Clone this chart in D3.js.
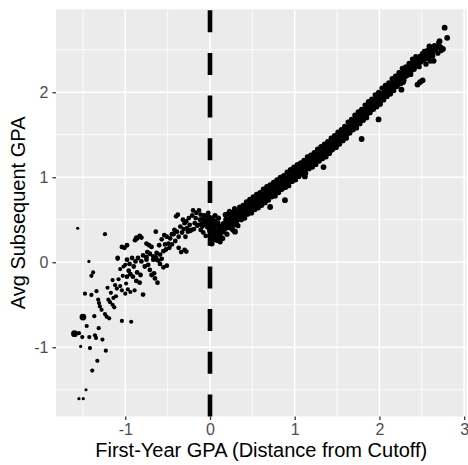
<!DOCTYPE html>
<html>
<head>
<meta charset="utf-8">
<script src="https://cdn.jsdelivr.net/npm/d3@7"></script>
<style>
  body { margin: 0; background: #fff; }
  svg { display: block; font-family: "Liberation Sans", Arial, sans-serif; }
</style>
</head>
<body>
<div id="chart"></div>
<script>
// Width and height of the SVG
const width = 468;
const height = 465;

// axis ticks
const xMajor = [-1, 0, 1, 2, 3];
const xMinor = [-1.5, -0.5, 0.5, 1.5, 2.5];
const yMajor = [-1, 0, 1, 2];
const yMinor = [-1.5, -0.5, 0.5, 1.5, 2.5];
const cutoff = 0;

// bins with very few students (far left)
const tinyBins = [
    [-1.562, 0.40], [-1.547, -1.605], [-1.496, -1.605], [-1.464, -1.50], [-1.527, -0.99], [-1.43, 0.01]
];

// two heavy bins
const heavyBins = [[-1.50, -0.645], [-1.60, -0.84]];

// sparse bins below -1.1
const farLeft = [
    [-1.24, 0.33], [-1.38, -0.12], [-1.40, -0.16], [-1.476, -0.37], [-1.40, -0.385], [-1.34, -0.34],
    [-1.366, -0.635], [-1.456, -0.75], [-1.547, -0.835], [-1.508, -0.88], [-1.425, -0.88], [-1.358, -0.86],
    [-1.346, -0.89], [-1.314, -0.776], [-1.27, -0.91], [-1.417, -1.01], [-1.23, -1.04], [-1.33, -1.16],
    [-1.39, -1.275],
    [-1.32, -0.44], [-1.31, -0.48], [-1.30, -0.52], [-1.28, -0.56], [-1.24, -0.61], [-1.22, -0.64],
    [-1.19, -0.66], [-1.20, -0.44], [-1.18, -0.47], [-1.15, -0.50], [-1.13, -0.53], [-1.21, -0.30],
    [-1.15, -0.21], [-1.09, 0.04], [-1.06, -0.08], [-1.02, -0.05], [-1.00, -0.03],
    [-1.10, -0.31], [-1.06, -0.28], [-1.04, -0.33], [-1.00, -0.37], [-0.97, -0.32], [-0.94, -0.35],
    [-0.89, -0.33], [-1.14, -0.42], [-1.11, -0.40], [-1.04, -0.69], [-0.93, -0.70],
    [-1.17, -0.36], [-1.12, -0.27], [-1.08, -0.20], [-1.03, -0.16], [-0.99, -0.25]
];

// bins between -1.1 and the cutoff
const nearLeft = [
    [-1.04, 0.18], [-1.01, 0.17], [-0.98, 0.20], [-0.885, 0.26], [-0.86, 0.28], [-0.83, 0.31],
    [-0.81, 0.29], [-0.75, 0.22], [-0.72, 0.20], [-0.64, 0.36],
    [-1.09, 0.05], [-0.98, 0.03], [-0.95, -0.02], [-0.92, 0.05], [-0.88, 0.01], [-0.85, 0.05], [-0.81, 0.01],
    [-0.79, 0.08], [-0.75, 0.06], [-0.71, 0.10], [-0.67, 0.07], [-0.63, 0.11], [-0.59, 0.09],
    [-0.55, 0.13], [-0.52, 0.15], [-0.48, 0.17],
    [-0.71, -0.09], [-0.69, -0.15], [-0.65, -0.19], [-0.62, -0.24],
    [-0.98, -0.17], [-0.94, -0.14], [-0.91, -0.17], [-0.87, -0.22], [-0.83, -0.24], [-0.79, -0.38],
    [-0.67, 0.03], [-0.64, 0.06], [-0.61, 0.02], [-0.57, 0.04],
    [-0.51, 0.30], [-0.47, 0.28], [-0.43, 0.33], [-0.39, 0.36], [-0.37, 0.30], [-0.33, 0.35],
    [-0.31, 0.39], [-0.27, 0.40], [-0.23, 0.37], [-0.19, 0.39], [-0.15, 0.43],
    [-0.53, 0.21], [-0.49, 0.22], [-0.45, 0.21], [-0.41, 0.25], [-0.37, 0.17],
    [-0.30, 0.145], [-0.34, 0.12], [-0.28, 0.125], [-0.40, 0.54], [-0.38, 0.56],
    [-0.20, 0.61], [-0.16, 0.58], [-0.13, 0.61], [-0.11, 0.56], [-0.09, 0.51], [-0.07, 0.55],
    [-0.05, 0.50], [-0.03, 0.46], [-0.02, 0.50], [-0.01, 0.40],
    [-0.32, 0.50], [-0.28, 0.48], [-0.24, 0.44], [-0.22, 0.38], [-0.18, 0.46], [-0.14, 0.44],
    [-0.11, 0.38], [-0.08, 0.35], [-0.05, 0.31],
    [-0.12, 0.50], [-0.10, 0.45], [-0.06, 0.44], [-0.04, 0.55], [-0.02, 0.58], [-0.01, 0.53],
    [-0.03, 0.41], [-0.07, 0.47], [-0.09, 0.42],
    [-0.63, 0.03], [-0.59, -0.02], [-0.55, -0.06], [-0.51, -0.04], [-0.66, -0.13],
    [-0.75, 0.03], [-0.73, -0.03], [-0.45, 0.33], [-0.42, 0.38], [-0.29, 0.30], [-0.26, 0.36],
    [-0.87, 0.29],
    [-0.96, -0.10], [-0.90, -0.05], [-0.86, -0.12], [-0.82, -0.15], [-0.77, -0.05], [-0.74, 0.12],
    [-0.69, 0.18], [-0.60, 0.20], [-0.57, 0.27], [-0.54, 0.32], [-0.35, 0.42], [-0.30, 0.46],
    [-0.25, 0.52], [-0.21, 0.55], [-0.17, 0.52]
];

// bins right of the cutoff, core of the band
const right = [
    [0.00, 0.37], [0.01, 0.31], [0.02, 0.47], [0.04, 0.43],
    [0.01, 0.25], [0.02, 0.22], [0.03, 0.29], [0.05, 0.27], [0.06, 0.34], [0.04, 0.38], [0.07, 0.30],
    [0.08, 0.37], [0.09, 0.26], [0.10, 0.33], [0.11, 0.40], [0.12, 0.35], [0.13, 0.29], [0.02, 0.42],
    [0.05, 0.48], [0.03, 0.52], [0.07, 0.44], [0.09, 0.46], [0.14, 0.42], [0.15, 0.36], [0.16, 0.45],
    [0.17, 0.39], [0.18, 0.43], [0.19, 0.50], [0.20, 0.41], [0.21, 0.47], [0.22, 0.57], [0.23, 0.51],
    [0.24, 0.45], [0.25, 0.53], [0.26, 0.49], [0.27, 0.58], [0.28, 0.44], [0.295, 0.36], [0.30, 0.52],
    [0.31, 0.56], [0.32, 0.50], [0.33, 0.60], [0.34, 0.54], [0.35, 0.57], [0.36, 0.51], [0.37, 0.62],
    [0.38, 0.58], [0.39, 0.55], [0.40, 0.63], [0.41, 0.59], [0.42, 0.66], [0.43, 0.61], [0.44, 0.57],
    [0.45, 0.65], [0.46, 0.69], [0.47, 0.62], [0.48, 0.67], [0.49, 0.72], [0.50, 0.64], [0.51, 0.68],
    [0.52, 0.74], [0.53, 0.70], [0.54, 0.66], [0.55, 0.72], [0.56, 0.77], [0.57, 0.71], [0.58, 0.75],
    [0.59, 0.69], [0.60, 0.79], [0.61, 0.74], [0.62, 0.77], [0.63, 0.71], [0.64, 0.80], [0.65, 0.75],
    [0.66, 0.78], [0.67, 0.83], [0.68, 0.76], [0.69, 0.81], [0.70, 0.85], [0.71, 0.65], [0.71, 0.79],
    [0.72, 0.83], [0.73, 0.87], [0.74, 0.80], [0.75, 0.85], [0.76, 0.89], [0.77, 0.82], [0.78, 0.87],
    [0.79, 0.91], [0.80, 0.84], [0.81, 0.89], [0.82, 0.93], [0.83, 0.86], [0.84, 0.91], [0.85, 0.95],
    [0.86, 0.88], [0.87, 0.93], [0.885, 0.73], [0.88, 0.97], [0.89, 0.91], [0.90, 0.95], [0.91, 0.99],
    [0.92, 0.93], [0.93, 0.98], [0.94, 1.02], [0.95, 0.96], [0.96, 1.01], [0.97, 1.05], [0.98, 0.99],
    [0.99, 1.04], [1.00, 1.08], [1.01, 1.02], [1.02, 1.06], [1.03, 1.10], [1.04, 1.04], [1.05, 1.09],
    [1.06, 1.12], [1.07, 1.06], [1.08, 1.11], [1.09, 1.14], [1.10, 1.08], [1.11, 1.13], [1.12, 1.01],
    [1.12, 1.16], [1.13, 1.10], [1.14, 1.15], [1.15, 1.18], [1.16, 1.12], [1.17, 1.17], [1.18, 1.20],
    [1.19, 1.14], [1.20, 1.19], [1.21, 1.22], [1.22, 1.16], [1.23, 1.21], [1.24, 1.25], [1.25, 1.18],
    [1.26, 1.23], [1.27, 1.27], [1.28, 1.21], [1.29, 1.26], [1.30, 1.29], [1.31, 1.23], [1.32, 1.28],
    [1.33, 1.31], [1.34, 1.12], [1.34, 1.25], [1.35, 1.30], [1.36, 1.34], [1.37, 1.28], [1.38, 1.33],
    [1.39, 1.36], [1.40, 1.30], [1.41, 1.35], [1.42, 1.38], [1.43, 1.32], [1.44, 1.37], [1.45, 1.41],
    [1.46, 1.35], [1.47, 1.40], [1.48, 1.44], [1.49, 1.38], [1.50, 1.43], [1.51, 1.47], [1.52, 1.41],
    [1.53, 1.46], [1.54, 1.50], [1.55, 1.44], [1.56, 1.49], [1.57, 1.53], [1.58, 1.47], [1.59, 1.52],
    [1.60, 1.56], [1.61, 1.50], [1.62, 1.55], [1.63, 1.59], [1.64, 1.53], [1.65, 1.58], [1.66, 1.62],
    [1.67, 1.56], [1.68, 1.61], [1.69, 1.65], [1.70, 1.59], [1.71, 1.64], [1.72, 1.68], [1.73, 1.62],
    [1.74, 1.67], [1.75, 1.71], [1.76, 1.65], [1.77, 1.70], [1.78, 1.74], [1.79, 1.45], [1.79, 1.68],
    [1.80, 1.73], [1.81, 1.77], [1.82, 1.71], [1.83, 1.76], [1.84, 1.80], [1.85, 1.74], [1.86, 1.79],
    [1.87, 1.83], [1.88, 1.77], [1.89, 1.82], [1.90, 1.86], [1.91, 1.80], [1.92, 1.85], [1.93, 1.89],
    [1.94, 1.83], [1.95, 1.88], [1.96, 1.92], [1.975, 1.96], [1.97, 1.86], [1.98, 1.91], [1.99, 1.68],
    [2.00, 1.95], [2.01, 1.89], [2.02, 1.94], [2.03, 1.98], [2.04, 1.92], [2.05, 1.97], [2.06, 2.01],
    [2.07, 1.95], [2.08, 2.00], [2.09, 2.04], [2.10, 1.98], [2.11, 2.03], [2.12, 2.07], [2.13, 2.01],
    [2.14, 2.06], [2.15, 2.10], [2.16, 2.04], [2.17, 2.09], [2.18, 2.13], [2.19, 2.07], [2.20, 2.12],
    [2.21, 2.16], [2.22, 2.10], [2.23, 2.15], [2.24, 2.19], [2.25, 2.13], [2.26, 2.03], [2.26, 2.18],
    [2.27, 2.22], [2.28, 2.12], [2.28, 2.16], [2.29, 2.21], [2.30, 2.25], [2.31, 2.19], [2.32, 2.24],
    [2.33, 2.28], [2.34, 2.22], [2.35, 2.27], [2.36, 2.31], [2.37, 2.25], [2.38, 2.30], [2.39, 2.34],
    [2.40, 2.28], [2.41, 2.33], [2.42, 2.37], [2.43, 2.31], [2.44, 2.36], [2.45, 2.09], [2.45, 2.40],
    [2.46, 2.34], [2.47, 2.39], [2.48, 2.12], [2.48, 2.42], [2.49, 2.36], [2.50, 2.41], [2.51, 2.14],
    [2.51, 2.45], [2.52, 2.38], [2.53, 2.43], [2.54, 2.47], [2.55, 2.40], [2.56, 2.46], [2.57, 2.49],
    [2.58, 2.42], [2.59, 2.54], [2.60, 2.37], [2.61, 2.50], [2.62, 2.46], [2.64, 2.37], [2.66, 2.50],
    [2.68, 2.53], [2.71, 2.60], [2.72, 2.53], [2.75, 2.51], [2.77, 2.76], [2.80, 2.64]
];

// bins right of the cutoff, upper and lower edges of the band
const rightEdge = [
    [0.06, 0.55], [0.10, 0.52], [0.12, 0.24], [0.15, 0.28], [0.18, 0.56], [0.20, 0.33], [0.23, 0.60],
    [0.25, 0.40], [0.27, 0.38], [0.29, 0.63], [0.31, 0.46], [0.33, 0.43], [0.35, 0.65], [0.37, 0.50],
    [0.39, 0.67], [0.41, 0.52], [0.43, 0.71], [0.45, 0.57], [0.47, 0.74], [0.49, 0.58], [0.51, 0.77],
    [0.53, 0.62], [0.55, 0.80], [0.57, 0.64], [0.59, 0.82], [0.61, 0.67], [0.63, 0.86], [0.65, 0.70],
    [0.67, 0.89], [0.69, 0.73], [0.71, 0.91], [0.73, 0.77], [0.75, 0.94], [0.77, 0.78], [0.79, 0.97],
    [0.81, 0.82], [0.83, 1.00], [0.85, 0.86], [0.87, 1.02], [0.89, 0.88], [0.91, 1.06], [0.93, 0.90],
    [0.95, 1.09], [0.97, 0.95], [0.99, 1.12], [1.01, 0.97], [1.03, 1.15], [1.05, 1.01], [1.07, 1.17],
    [1.09, 1.04], [1.11, 1.20], [1.13, 1.05], [1.15, 1.24], [1.17, 1.10], [1.19, 1.26], [1.21, 1.12],
    [1.23, 1.29], [1.25, 1.15], [1.27, 1.33], [1.29, 1.19], [1.31, 1.36], [1.33, 1.22], [1.35, 1.39],
    [1.37, 1.24], [1.39, 1.42], [1.41, 1.28], [1.43, 1.46], [1.45, 1.33], [1.47, 1.49], [1.49, 1.35],
    [1.51, 1.53], [1.53, 1.39], [1.55, 1.56], [1.57, 1.43], [1.59, 1.60], [1.61, 1.46], [1.63, 1.65],
    [1.65, 1.52], [1.67, 1.68], [1.69, 1.56], [1.71, 1.73], [1.73, 1.58], [1.75, 1.77], [1.77, 1.63],
    [1.79, 1.80], [1.81, 1.67], [1.83, 1.85], [1.85, 1.70], [1.87, 1.89], [1.89, 1.76], [1.91, 1.92],
    [1.93, 1.80], [1.95, 1.97], [1.97, 1.83], [1.99, 2.00], [2.01, 1.86], [2.03, 2.05], [2.05, 1.91],
    [2.07, 2.08], [2.09, 1.95], [2.11, 2.11], [2.13, 1.98], [2.15, 2.16], [2.17, 2.02], [2.19, 2.19],
    [2.21, 2.07], [2.23, 2.23], [2.25, 2.10], [2.27, 2.28], [2.29, 2.14], [2.31, 2.30], [2.33, 2.20],
    [2.35, 2.34], [2.37, 2.21], [2.39, 2.39], [2.41, 2.27], [2.43, 2.42], [2.47, 2.30], [2.53, 2.48],
    [2.55, 2.33], [2.58, 2.50], [2.63, 2.43], [2.65, 2.55], [2.69, 2.46], [2.70, 2.58], [2.73, 2.49]
];

// panel edges in pixels
const panel = { left: 56, right: 466.5, top: 9.3, bottom: 416.5 };

const x = d3.scaleLinear().domain([-1.818, 3.028]).range([panel.left, panel.right]);
const y = d3.scaleLinear().domain([-1.815, 2.976]).range([panel.bottom, panel.top]);

const svg = d3.select("#chart")
    .append("svg")
    .attr("width", width)
    .attr("height", height);

// grey panel background
svg.append("rect")
    .attr("x", panel.left)
    .attr("y", panel.top)
    .attr("width", panel.right - panel.left)
    .attr("height", panel.bottom - panel.top)
    .attr("fill", "#ebebeb");

const grid = svg.append("g");
// minor grid first, then major
grid.selectAll(".xminor").data(xMinor).enter().append("line")
    .attr("x1", d => x(d)).attr("x2", d => x(d))
    .attr("y1", panel.top).attr("y2", panel.bottom)
    .attr("stroke", "#fff").attr("stroke-width", 0.8);
grid.selectAll(".yminor").data(yMinor).enter().append("line")
    .attr("y1", d => y(d)).attr("y2", d => y(d))
    .attr("x1", panel.left).attr("x2", panel.right)
    .attr("stroke", "#fff").attr("stroke-width", 0.8);
grid.selectAll(".xmajor").data(xMajor).enter().append("line")
    .attr("x1", d => x(d)).attr("x2", d => x(d))
    .attr("y1", panel.top).attr("y2", panel.bottom)
    .attr("stroke", "#fff").attr("stroke-width", 1.6);
grid.selectAll(".ymajor").data(yMajor).enter().append("line")
    .attr("y1", d => y(d)).attr("y2", d => y(d))
    .attr("x1", panel.left).attr("x2", panel.right)
    .attr("stroke", "#fff").attr("stroke-width", 1.6);

// points, one layer per group
function drawPoints(data, r) {
    svg.append("g").selectAll("circle")
        .data(data)
        .enter()
        .append("circle")
        .attr("cx", d => x(d[0]))
        .attr("cy", d => y(d[1]))
        .attr("r", r)
        .attr("fill", "#000");
}
drawPoints(tinyBins, 1.6);
drawPoints(farLeft, 2.1);
drawPoints(nearLeft, 2.4);
drawPoints(rightEdge, 2.6);
drawPoints(right, 2.9);
drawPoints(heavyBins, 3.4);

// dashed cutoff line, drawn from the bottom up like ggplot
svg.append("line")
    .attr("x1", x(cutoff)).attr("x2", x(cutoff))
    .attr("y1", panel.bottom).attr("y2", panel.top)
    .attr("stroke", "#000")
    .attr("stroke-width", 4.6)
    .attr("stroke-dasharray", "22,20.7");

// axes
const xAxis = svg.append("g")
    .attr("transform", `translate(0,${panel.bottom})`)
    .call(d3.axisBottom(x).tickValues(xMajor).tickSize(3.5).tickPadding(4).tickFormat(d => String(d)));
const yAxis = svg.append("g")
    .attr("transform", `translate(${panel.left},0)`)
    .call(d3.axisLeft(y).tickValues(yMajor).tickSize(3.5).tickPadding(4).tickFormat(d => String(d)));

[xAxis, yAxis].forEach(a => {
    a.select(".domain").remove();
    a.selectAll(".tick line").attr("stroke", "#333").attr("stroke-width", 1.3);
    a.selectAll(".tick text")
        .attr("fill", "#4d4d4d")
        .style("font-size", "16px")
        .style("font-family", "'Liberation Sans', Arial, sans-serif");
});

// axis titles
svg.append("text")
    .attr("x", (panel.left + panel.right) / 2)
    .attr("y", 457)
    .attr("text-anchor", "middle")
    .style("font-size", "20px")
    .attr("fill", "#000")
    .text("First-Year GPA (Distance from Cutoff)");

svg.append("text")
    .attr("transform", `translate(25,${(panel.top + panel.bottom) / 2}) rotate(-90)`)
    .attr("text-anchor", "middle")
    .style("font-size", "20px")
    .attr("fill", "#000")
    .text("Avg Subsequent GPA");
</script>
</body>
</html>
